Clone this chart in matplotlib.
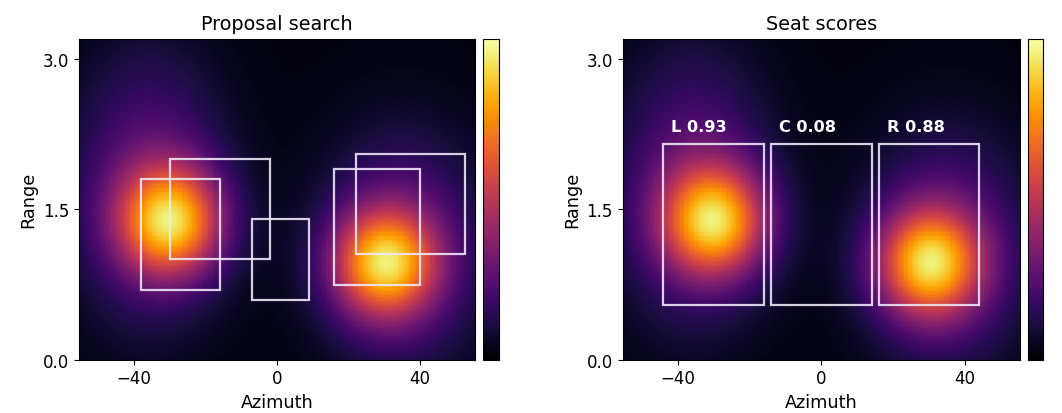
import numpy as np
import matplotlib
matplotlib.use("Agg")
import matplotlib.pyplot as plt
from matplotlib.patches import Rectangle

# ---- data ----
az_range = [-55.3, 55.3]
rng_range = [0.0, 3.2]
n_az, n_rng = 160, 128

# blob components of the response map: centre az, centre range, sigma az, sigma range, amplitude
blob_az = [-30.0, -36.0, 30.0, 35.0]
blob_rng = [1.38, 1.70, 0.96, 1.10]
blob_saz = [10.0, 15.0, 10.0, 16.0]
blob_srng = [0.38, 0.95, 0.38, 0.85]
blob_amp = [0.72, 0.25, 0.72, 0.23]
floor = 0.02

# proposal boxes (x0, y0, width, height)
prop_x0 = [-38.0, -30.0, -7.0, 16.0, 22.0]
prop_y0 = [0.70, 1.00, 0.60, 0.75, 1.05]
prop_w = [22.0, 28.0, 16.0, 24.0, 30.5]
prop_h = [1.10, 1.00, 0.80, 1.15, 1.00]

# seats
seat_names = ["L", "C", "R"]
seat_x0 = [-44.0, -14.0, 16.0]
seat_w = [28.0, 28.0, 28.0]
seat_y0 = 0.55
seat_h = 1.60
seat_scores = [0.93, 0.08, 0.88]

tick_x = [-40, 0, 40]
tick_y = [0.0, 1.5, 3.0]

# ---- field ----
az = np.linspace(az_range[0], az_range[1], n_az)
rg = np.linspace(rng_range[0], rng_range[1], n_rng)
AZ, RG = np.meshgrid(az, rg)
field = np.full_like(AZ, floor)
for cx, cy, sx, sy, a in zip(blob_az, blob_rng, blob_saz, blob_srng, blob_amp):
    field += a * np.exp(-((AZ - cx) ** 2 / (2 * sx ** 2) + (RG - cy) ** 2 / (2 * sy ** 2)))

plt.rcParams["font.size"] = 12

fig = plt.figure(figsize=(10.62, 4.14), dpi=100)
ax_pos = [[0.0744, 0.1288, 0.3729, 0.7746], [0.5863, 0.1288, 0.3741, 0.7746]]
cb_pos = [[0.4548, 0.1288, 0.0151, 0.7746], [0.9677, 0.1288, 0.0146, 0.7746]]
titles = ["Proposal search", "Seat scores"]

box_color = (0.93, 0.90, 0.96, 0.9)

for i in range(2):
    ax = fig.add_axes(ax_pos[i])
    im = ax.imshow(field, origin="lower", cmap="inferno", aspect="auto",
                   extent=[az_range[0], az_range[1], rng_range[0], rng_range[1]],
                   vmin=0, vmax=1.0, interpolation="nearest")
    ax.set_xticks(tick_x)
    ax.set_yticks(tick_y)
    ax.set_yticklabels([f"{v:.1f}" for v in tick_y])
    ax.set_xlabel("Azimuth", fontsize=12.7)
    ax.set_ylabel("Range", fontsize=12.7)
    ax.set_title(titles[i], fontsize=13.9, pad=7)
    cax = fig.add_axes(cb_pos[i])
    cb = fig.colorbar(im, cax=cax)
    cb.set_ticks([])
    cb.ax.tick_params(length=0)
    if i == 0:
        for x0, y0, w, h in zip(prop_x0, prop_y0, prop_w, prop_h):
            ax.add_patch(Rectangle((x0, y0), w, h, fill=False, edgecolor=box_color, lw=1.6))
    else:
        for name, x0, w, s in zip(seat_names, seat_x0, seat_w, seat_scores):
            ax.add_patch(Rectangle((x0, seat_y0), w, seat_h, fill=False, edgecolor=box_color, lw=1.6))
            ax.text(x0 + 2.2, seat_y0 + seat_h + 0.1, f"{name} {s:.2f}", color="white",
                    fontsize=11.6, fontweight="bold", va="bottom", ha="left")

fig.savefig("out.png", dpi=100)
